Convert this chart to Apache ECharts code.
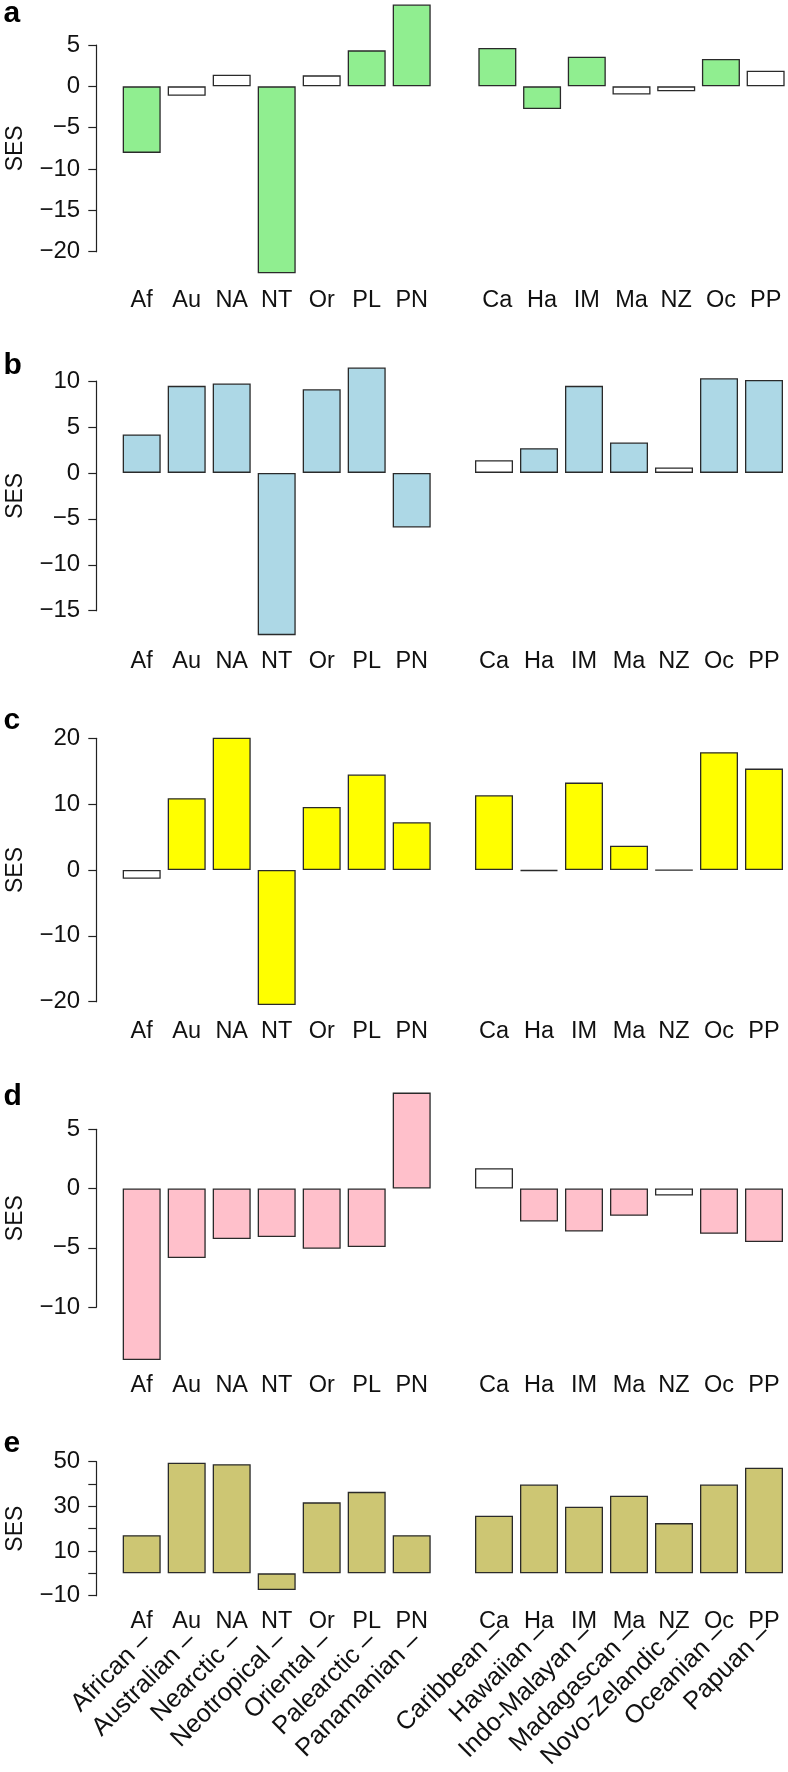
<!DOCTYPE html>
<html>
<head>
<meta charset="utf-8">
<script src="https://cdn.jsdelivr.net/npm/echarts@6/dist/echarts.min.js"></script>
<style>
html,body{margin:0;padding:0;background:#fff;}
#chart{width:788px;height:1772px;}
</style>
</head>
<body>
<div id="chart"></div>
<script>
// ---- data ----
const codesLeft = ['Af','Au','NA','NT','Or','PL','PN'];
const codesRight = ['Ca','Ha','IM','Ma','NZ','Oc','PP'];
const namesLeft = ['African –','Australian –','Nearctic –','Neotropical –','Oriental –','Palearctic –','Panamanian –'];
const namesRight = ['Caribbean –','Hawaiian –','Indo-Malayan –','Madagascan –','Novo-Zelandic –','Oceanian –','Papuan –'];
const panelLetters = ['a','b','c','d','e'];

const sesA_L = [-8.05, -1.13, 1.41, -22.6, 1.33, 4.35, 9.9];
const sesA_R = [4.64, -2.74, 3.59, -1.0, -0.6, 3.31, 1.9];
const sigA_L = [1,0,0,1,0,1,1];
const sigA_R = [1,1,1,0,0,1,0];

const sesB_L = [4.18, 9.47, 9.73, -17.66, 9.1, 11.47, -5.94];
const sesB_R = [1.38, 2.69, 9.47, 3.3, 0.58, 10.3, 10.12];
const sigB_L = [1,1,1,1,1,1,1];
const sigB_R = [0,1,1,1,0,1,1];

const sesC_L = [-1.32, 10.9, 20.1, -20.5, 9.58, 14.5, 7.25];
const sesC_R = [11.35, -0.15, 13.27, 3.7, -0.05, 17.9, 15.4];
const sigC_L = [0,1,1,1,1,1,1];
const sigC_R = [1,0,1,1,0,1,1];

const sesD_L = [-14.47, -5.87, -4.27, -4.1, -5.08, -4.94, 8.1];
const sesD_R = [1.72, -2.78, -3.63, -2.3, -0.59, -3.82, -4.52];
const sigD_L = [1,1,1,1,1,1,1];
const sigD_R = [0,1,1,1,0,1,1];

const sesE_L = [17.1, 49.5, 48.9, -7.5, 31.8, 36.5, 17.1];
const sesE_R = [25.8, 39.8, 29.8, 34.8, 22.5, 39.8, 47.3];
const sigE_L = [1,1,1,1,1,1,1];
const sigE_R = [1,1,1,1,1,1,1];

// y axis ranges (tick labels)
const yMin = [-20, -15, -20, -10, -10];
const yMax = [5, 10, 20, 5, 50];
const yStep = [5, 5, 10, 5, 10];
const yHiddenLabels = [[], [], [], [], [0, 20, 40]];

const valuesL = [sesA_L, sesB_L, sesC_L, sesD_L, sesE_L];
const valuesR = [sesA_R, sesB_R, sesC_R, sesD_R, sesE_R];
const sigL = [sigA_L, sigB_L, sigC_L, sigD_L, sigE_L];
const sigR = [sigA_R, sigB_R, sigC_R, sigD_R, sigE_R];

// ---- styles & layout ----
const fillColors = ['#90EE90', '#ADD8E6', '#FFFF00', '#FFC0CB', '#CDC673'];
const layout = [
  {top: 45,     h: 206.7, labMargin: 48.5, shift: 3.5, letterTop: -0.8},
  {top: 381,    h: 229.7, labMargin: 50.5, shift: 0,   letterTop: 350.5},
  {top: 738.3,  h: 263.4, labMargin: 29.5, shift: 0,   letterTop: 705.8},
  {top: 1129.3, h: 177.7, labMargin: 78.5, shift: 0,   letterTop: 1081.5},
  {top: 1461.7, h: 134,   labMargin: 25.5, shift: 0,   letterTop: 1429.2}
];
const FONT = 'Liberation Sans, Arial, Helvetica, sans-serif';
const TXT = '#111';
const AX = '#222';
const leftGridX = 119.2, rightGridX = 471.5, gridW = 315, nameShift = 5;

const grids = [], xAxes = [], yAxes = [], series = [], titles = [];

function mkData(vals, sig, color) {
  return vals.map((v, i) => ({value: v, itemStyle: {color: sig[i] ? color : '#ffffff'}}));
}

for (let p = 0; p < 5; p++) {
  const L = layout[p];
  const gL = grids.length;
  grids.push({left: leftGridX, width: gridW, top: L.top, height: L.h});
  grids.push({left: rightGridX + L.shift, width: gridW, top: L.top, height: L.h});
  [codesLeft, codesRight].forEach((codes, k) => {
    xAxes.push({
      type: 'category', gridIndex: gL + k, data: codes, position: 'bottom',
      axisLine: {show: false, onZero: false}, axisTick: {show: false},
      axisLabel: {interval: 0, margin: L.labMargin, fontSize: 23.5, color: TXT, fontFamily: FONT, verticalAlign: 'middle'}
    });
  });
  const hidden = yHiddenLabels[p];
  yAxes.push({
    type: 'value', gridIndex: gL, min: yMin[p], max: yMax[p], interval: yStep[p], offset: 22.5,
    axisLine: {show: true, onZero: false, lineStyle: {color: AX, width: 1.2}},
    axisTick: {show: true, length: 8.4, lineStyle: {color: AX, width: 1.2}},
    splitLine: {show: false},
    axisLabel: {margin: 16.5, fontSize: 24, color: TXT, fontFamily: FONT,
      formatter: v => hidden.indexOf(v) >= 0 ? '' : String(v).replace('-', '\u2212')},
    name: 'SES', nameLocation: 'middle', nameGap: 70, nameMoveOverlap: false,
    nameTextStyle: {fontSize: 23, color: TXT, fontFamily: FONT}
  });
  yAxes.push({type: 'value', gridIndex: gL + 1, min: yMin[p], max: yMax[p], interval: yStep[p], show: false});
  [[valuesL[p], sigL[p]], [valuesR[p], sigR[p]]].forEach((d, k) => {
    series.push({
      type: 'bar', xAxisIndex: xAxes.length - 2 + k, yAxisIndex: yAxes.length - 2 + k,
      data: mkData(d[0], d[1], fillColors[p]), barWidth: 38, clip: false, silent: true,
      itemStyle: {borderColor: '#2a2a2a', borderWidth: 1.3}
    });
  });
  titles.push({text: panelLetters[p], left: 3.5, top: L.letterTop, padding: 0,
    textStyle: {fontSize: 30, fontWeight: 'bold', color: '#000', fontFamily: FONT}});
}

// full region names under panel e (own label grids)
const eL = layout[4];
[namesLeft, namesRight].forEach((names, k) => {
  const gi = grids.length;
  grids.push({left: (k ? rightGridX : leftGridX) + nameShift, width: gridW, top: eL.top, height: eL.h});
  xAxes.push({
    type: 'category', gridIndex: gi, data: names, position: 'bottom',
    axisLine: {show: false, onZero: false}, axisTick: {show: false},
    axisLabel: {interval: 0, rotate: 45, margin: 41, fontSize: 25.5, color: TXT, fontFamily: FONT}
  });
  yAxes.push({type: 'value', gridIndex: gi, min: yMin[4], max: yMax[4], show: false});
});

const chart = echarts.init(document.getElementById('chart'), null, {renderer: 'canvas'});
chart.setOption({
  animation: false,
  backgroundColor: '#ffffff',
  title: titles,
  grid: grids,
  xAxis: xAxes,
  yAxis: yAxes,
  series: series
});
</script>
</body>
</html>
